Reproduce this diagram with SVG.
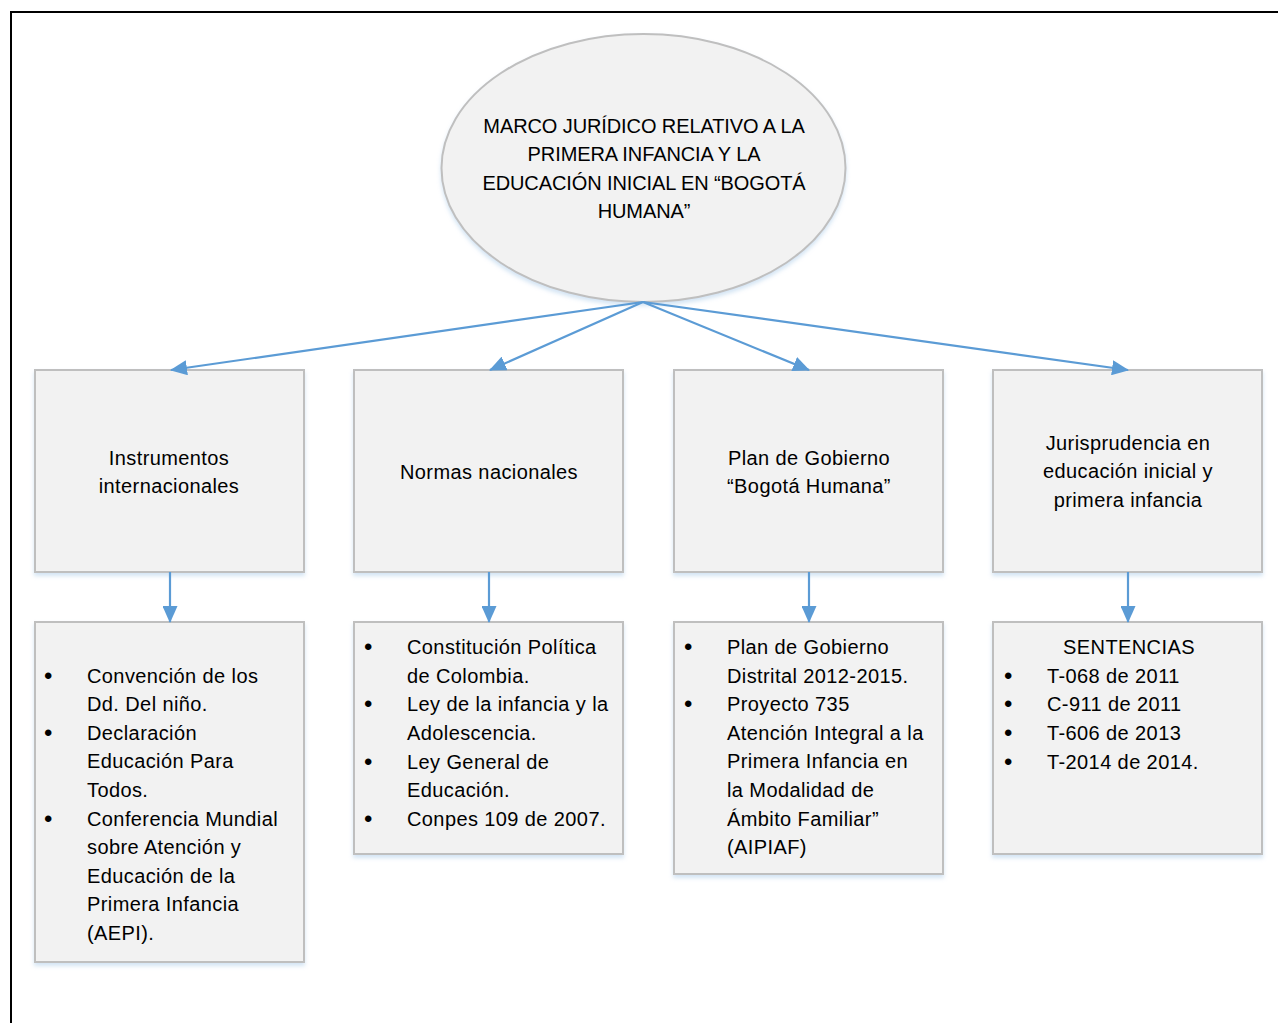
<svg xmlns="http://www.w3.org/2000/svg" width="1278" height="1023" viewBox="0 0 1278 1023">
<style>
.box{fill:#f2f2f2;stroke:#bfbfbf;stroke-width:2;filter:url(#sh)}
.t{font-family:"Liberation Sans",Arial,sans-serif;font-size:20px;fill:#000;letter-spacing:0.4px}
.e{letter-spacing:-0.1px}
.c{text-anchor:middle}
.b{font-family:"Liberation Sans",Arial,sans-serif;font-size:24px;fill:#000}
.con{stroke:#5b9bd5;stroke-width:2.2;fill:none;marker-end:url(#ah)}
</style>
<defs>
<marker id="ah" markerWidth="17" markerHeight="15" refX="16" refY="7.500" orient="auto" markerUnits="userSpaceOnUse">
<path d="M0,0 L17,7.500 L0,15 z" fill="#5b9bd5"/>
</marker>
<filter id="sh" x="-5%" y="-5%" width="110%" height="115%">
<feDropShadow dx="0" dy="3" stdDeviation="2" flood-color="#9dc3e6" flood-opacity="0.45"/>
</filter>
</defs>
<rect x="11" y="12" width="1280" height="1030" fill="#fff" stroke="#000" stroke-width="2"/>

<g id="root">
<ellipse cx="643.500" cy="168" rx="202" ry="134" class="box"/>
<text class="t c e" x="644" y="133">MARCO JURÍDICO RELATIVO A LA</text>
<text class="t c e" x="644" y="161">PRIMERA INFANCIA Y LA</text>
<text class="t c e" x="644" y="190">EDUCACIÓN INICIAL EN “BOGOTÁ</text>
<text class="t c e" x="644" y="218">HUMANA”</text>
</g>

<g id="n1">
<rect x="35" y="370" width="269" height="202" class="box"/>
<text class="t c" x="169" y="465">Instrumentos</text>
<text class="t c" x="169" y="493">internacionales</text>
</g>
<g id="n2">
<rect x="354" y="370" width="269" height="202" class="box"/>
<text class="t c" x="489" y="479">Normas nacionales</text>
</g>
<g id="n3">
<rect x="674" y="370" width="269" height="202" class="box"/>
<text class="t c" x="809" y="465">Plan de Gobierno</text>
<text class="t c" x="809" y="493">“Bogotá Humana”</text>
</g>
<g id="n4">
<rect x="993" y="370" width="269" height="202" class="box"/>
<text class="t c" x="1128" y="450">Jurisprudencia en</text>
<text class="t c" x="1128" y="478">educación inicial y</text>
<text class="t c" x="1128" y="507">primera infancia</text>
</g>

<g id="d1">
<rect x="35" y="622" width="269" height="340" class="box"/>
<g class="b">
<text x="44" y="684">•</text><text x="44" y="741">•</text><text x="44" y="827">•</text>
</g>
<g class="t">
<text x="87" y="683">Convención de los</text>
<text x="87" y="711">Dd. Del niño.</text>
<text x="87" y="740">Declaración</text>
<text x="87" y="768">Educación Para</text>
<text x="87" y="797">Todos.</text>
<text x="87" y="826">Conferencia Mundial</text>
<text x="87" y="854">sobre Atención y</text>
<text x="87" y="883">Educación de la</text>
<text x="87" y="911">Primera Infancia</text>
<text x="87" y="940">(AEPI).</text>
</g>
</g>
<g id="d2">
<rect x="354" y="622" width="269" height="232" class="box"/>
<g class="b">
<text x="364" y="655">•</text><text x="364" y="712">•</text><text x="364" y="770">•</text><text x="364" y="827">•</text>
</g>
<g class="t">
<text x="407" y="654">Constitución Política</text>
<text x="407" y="683">de Colombia.</text>
<text x="407" y="711">Ley de la infancia y la</text>
<text x="407" y="740">Adolescencia.</text>
<text x="407" y="769">Ley General de</text>
<text x="407" y="797">Educación.</text>
<text x="407" y="826">Conpes 109 de 2007.</text>
</g>
</g>
<g id="d3">
<rect x="674" y="622" width="269" height="252" class="box"/>
<g class="b">
<text x="684" y="655">•</text><text x="684" y="712">•</text>
</g>
<g class="t">
<text x="727" y="654">Plan de Gobierno</text>
<text x="727" y="683">Distrital 2012-2015.</text>
<text x="727" y="711">Proyecto 735</text>
<text x="727" y="740">Atención Integral a la</text>
<text x="727" y="768">Primera Infancia en</text>
<text x="727" y="797">la Modalidad de</text>
<text x="727" y="826">Ámbito Familiar”</text>
<text x="727" y="854">(AIPIAF)</text>
</g>
</g>
<g id="d4">
<rect x="993" y="622" width="269" height="232" class="box"/>
<g class="b">
<text x="1004" y="684">•</text><text x="1004" y="712">•</text><text x="1004" y="741">•</text><text x="1004" y="770">•</text>
</g>
<g class="t">
<text class="c" x="1129" y="654">SENTENCIAS</text>
<text x="1047" y="683">T-068 de 2011</text>
<text x="1047" y="711">C-911 de 2011</text>
<text x="1047" y="740">T-606 de 2013</text>
<text x="1047" y="769">T-2014 de 2014.</text>
</g>
</g>

<g id="connectors">
<line class="con" x1="643" y1="302" x2="171" y2="370"/>
<line class="con" x1="643" y1="302" x2="490" y2="370"/>
<line class="con" x1="643" y1="302" x2="809" y2="370"/>
<line class="con" x1="643" y1="302" x2="1128" y2="370"/>
<line class="con" x1="170" y1="572" x2="170" y2="622"/>
<line class="con" x1="489" y1="572" x2="489" y2="622"/>
<line class="con" x1="809" y1="572" x2="809" y2="622"/>
<line class="con" x1="1128" y1="572" x2="1128" y2="622"/>
</g>
</svg>
